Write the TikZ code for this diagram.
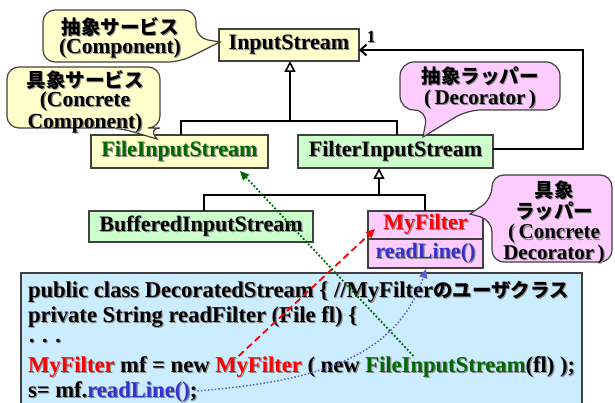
\documentclass[tikz,border=0pt]{standalone}
\usepackage{fontspec}
\setmainfont{Liberation Serif}
\newfontfamily\jp{Noto Sans CJK JP}
\usetikzlibrary{arrows.meta,calc}
\definecolor{yel}{HTML}{FFFFCC}
\definecolor{grn}{HTML}{CCFFCC}
\definecolor{pnk}{HTML}{FFCCFF}
\definecolor{blu}{HTML}{CCECFF}
\definecolor{brd}{HTML}{404040}
\definecolor{dgreen}{HTML}{006600}
\definecolor{dblue}{HTML}{3333CC}
\newcommand\shd[1]{\leavevmode\rlap{\kern1.2pt\lower1.2pt\hbox{\color{black!45}#1}}#1}
\tikzset{
  cls/.style={draw=brd, line width=1.2pt, inner sep=0pt, outer sep=0pt, font=\bfseries\fontsize{22}{22}\selectfont},
  conn/.style={line width=2.2pt, black},
  gen/.style={conn, -{Triangle[open, length=11pt, width=11pt, line width=1.6pt]}},
  assoc/.style={conn, -{Straight Barb[length=6pt, width=11pt, line width=2pt]}},
  bubble/.style={draw=brd, line width=1.2pt},
  bubtext/.style={align=center, inner sep=0pt},
  code/.style={inner sep=0pt, outer sep=0pt, anchor=base west, text height=16pt, text depth=4pt, font=\bfseries\fontsize{22.6}{22}\selectfont},
}
\newcommand\jpt[1]{{\jp\bfseries\fontsize{19.5}{19}\selectfont #1}}
\begin{document}
\begin{tikzpicture}[x=1pt,y=-1pt]
\useasboundingbox (0,0) rectangle (615,403);

% class boxes
\node[cls, fill=yel, minimum width=140pt, minimum height=32pt] (is) at (289,45) {\shd{InputStream}};
\node[cls, fill=yel, minimum width=177pt, minimum height=33pt, text=dgreen] (fis) at (179.5,151.5) {\shd{FileInputStream}};
\node[cls, fill=grn, minimum width=195pt, minimum height=33pt] (flt) at (395.5,151.5) {\shd{FilterInputStream}};
\node[cls, fill=grn, minimum width=224pt, minimum height=31pt] (bis) at (201,226.5) {\shd{BufferedInputStream}};
\node[cls, fill=pnk, minimum width=115pt, minimum height=28pt, text=red] (myf) at (425.5,225) {\shd{MyFilter}};
\node[cls, fill=pnk, minimum width=115pt, minimum height=29pt, text=dblue, anchor=north] (rl) at (myf.south) {\shd{readLine()}};

% generalization 1
\coordinate (g1) at (290,121);
\coordinate (b1) at (181,121);
\coordinate (b2) at (397,121);
\draw[conn] (b1 |- fis.north) -- (b1) -- (b2) -- (b2 |- flt.north);
\draw[gen] (g1) -- (g1 |- is.south);
% generalization 2
\coordinate (g2) at (379,195);
\coordinate (c1) at (204,195);
\coordinate (c2) at (425,195);
\draw[conn] (c1 |- bis.north) -- (c1) -- (c2) -- (c2 |- myf.north);
\draw[gen] (g2) -- (g2 |- flt.south);
% association
\coordinate (a1) at (583,50);
\draw[assoc] (flt.east |- 0,149) -- (a1 |- 0,149) -- (a1) -- (a1 -| is.east);
\node[font=\bfseries\fontsize{17}{17}\selectfont, inner sep=0pt] (one) at (371,37) {\shd{1}};

% callouts
\draw[bubble, fill=yel] (220,42) [rounded corners=12pt] -- (180,62) -- (43,62) -- (43,10) -- (196,10) -- (196,38) [sharp corners] -- cycle;
\node[bubtext, font=\bfseries\fontsize{21.5}{19}\selectfont] (t1) at (120,38) {\shd{\jpt{抽象サービス}}\\\shd{(Component)}};

\draw[bubble, fill=yel] (157,139) [rounded corners=12pt] -- (120,128) -- (7,128) -- (7,67) -- (160,67) -- (160,128) -- (148,128) [sharp corners] -- cycle;
\node[bubtext, font=\bfseries\fontsize{21.5}{17.5}\selectfont] (t2) at (85,102) {\shd{\jpt{具象サービス}}\\\shd{(Concrete}\\\shd{Component)}};

\draw[bubble, fill=pnk] (423,137) [rounded corners=14pt] -- (428,110) -- (400,110) -- (400,62) -- (560,62) -- (560,110) -- (467,110) [sharp corners] -- cycle;
\node[bubtext, font=\bfseries\fontsize{21}{21}\selectfont] (t3) at (480,88.5) {\shd{\jpt{抽象ラッパー}}\\\shd{(\,Decorator\,)}};

\draw[bubble, fill=pnk] (470,214) [rounded corners=12pt] -- (492,199) -- (492,175) -- (612,175) -- (612,262) -- (492,262) -- (492,220) [sharp corners] -- cycle;
\node[bubtext, font=\bfseries\fontsize{21}{20.7}\selectfont] (t4) at (554,223) {\shd{\jpt{具象}}\\\shd{\jpt{ラッパー}}\\\shd{(\,Concrete}\\\shd{Decorator\,)}};

% code box
\draw[draw=brd, line width=1.2pt, fill=blu] (21,273) rectangle (582,410);
\node[code] (l1) at (28,297) {\shd{public class DecoratedStream \{ //MyFilter\jpt{のユーザクラス}}};
\node[code] (l2) at (28,322) {\shd{private String readFilter (File fl) \{}};
\node[code] (l3) at (28,348) {\shd{· · ·}};
\node[code, text=red] (m1) at (28,372) {\shd{MyFilter}};
\node[code] (m1b) at (m1.base east) {\shd{\ mf = new\kern0.25em}};
\node[code, text=red] (m2) at (m1b.base east) {\shd{MyFilter}};
\node[code] (m2b) at (m2.base east) {\shd{\ ( new\kern0.25em}};
\node[code, text=dgreen] (f2) at (m2b.base east) {\shd{FileInputStream}};
\node[code] (f2b) at (f2.base east) {\shd{(fl) );}};
\node[code] (s1) at (28,397) {\shd{s= mf.}};
\node[code, text=dblue] (r2) at (s1.base east) {\shd{readLine()}};
\node[code] (sc) at (r2.base east) {\shd{;}};

% usage arrows
\coordinate (rt) at (375,229);
\coordinate (gt) at (240,171);
\coordinate (bt) at (426,269);
\draw[red, line width=1.8pt, dash pattern=on 7pt off 4pt, -{Triangle[length=9pt, width=8pt]}] ($(m2.north west)!0.27!(m2.north east)$) -- (rt);
\draw[dgreen, line width=1.8pt, dotted, -{Triangle[length=9pt, width=8pt]}] ($(f2.north west)!0.3!(f2.north east)$) -- (gt);
\draw[dblue!80!white, line width=1.5pt, dotted, -{Triangle[length=9pt, width=8pt]}] (sc.east) to[out=5, in=-108] (bt);
\end{tikzpicture}
\end{document}
